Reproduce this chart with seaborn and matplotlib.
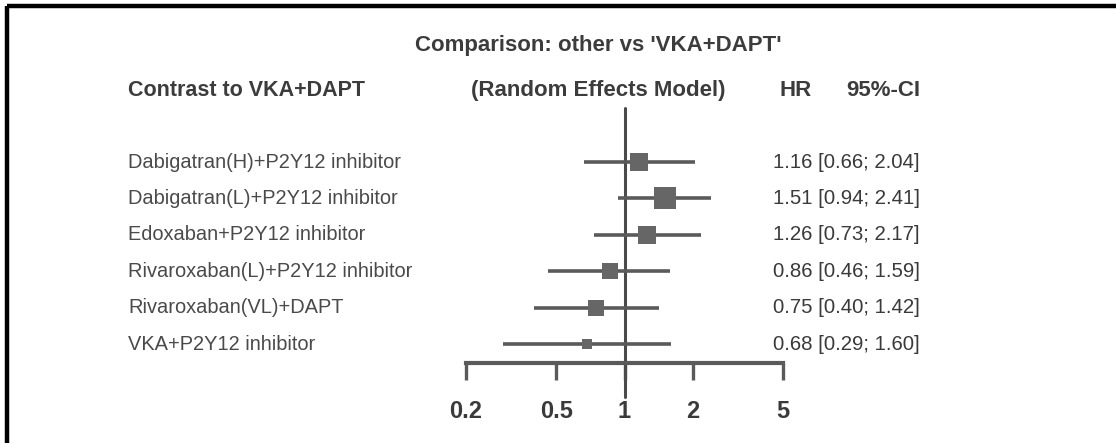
import numpy as np
import pandas as pd
import matplotlib
matplotlib.use("Agg")
import matplotlib.pyplot as plt
from matplotlib import font_manager
from matplotlib.transforms import blended_transform_factory
import seaborn as sns

# Network meta-analysis results, contrasts to VKA+DAPT
treatments = [
    "Dabigatran(H)+P2Y12 inhibitor",
    "Dabigatran(L)+P2Y12 inhibitor",
    "Edoxaban+P2Y12 inhibitor",
    "Rivaroxaban(L)+P2Y12 inhibitor",
    "Rivaroxaban(VL)+DAPT",
    "VKA+P2Y12 inhibitor",
]
hr = [1.16, 1.51, 1.26, 0.86, 0.75, 0.68]
ci_low = [0.66, 0.94, 0.73, 0.46, 0.40, 0.29]
ci_high = [2.04, 2.41, 2.17, 1.59, 1.42, 1.60]
weights = [3.3, 4.8, 3.2, 2.6, 2.6, 1.0]
ci_text = [
    "1.16 [0.66; 2.04]",
    "1.51 [0.94; 2.41]",
    "1.26 [0.73; 2.17]",
    "0.86 [0.46; 1.59]",
    "0.75 [0.40; 1.42]",
    "0.68 [0.29; 1.60]",
]
x_ticks = [0.2, 0.5, 1, 2, 5]
x_tick_labels = ["0.2", "0.5", "1", "2", "5"]

df = pd.DataFrame({"treatment": treatments, "hr": hr, "lo": ci_low,
                   "hi": ci_high, "w": weights, "row": np.arange(len(treatments))})

sns.set_theme(style="white")
available = {f.name for f in font_manager.fontManager.ttflist}
family = next((f for f in ["Liberation Sans Narrow", "Arial Narrow", "Liberation Sans"]
               if f in available), "DejaVu Sans")
plt.rcParams["font.family"] = [family, "DejaVu Sans"]

W, H = 1116, 443
fig = plt.figure(figsize=(W / 100, H / 100), dpi=100)
fig.patch.set_facecolor("white")

# overlay in pixel coordinates for the frame and header texts
ov = fig.add_axes([0, 0, 1, 1])
ov.set_xlim(0, W)
ov.set_ylim(H, 0)
ov.axis("off")

# forest panel
x0, x1 = 466, 783
ytop, ybot = 108, 363
ax = fig.add_axes([x0 / W, 1 - ybot / H, (x1 - x0) / W, (ybot - ytop) / H])
ax.patch.set_alpha(0)
ax.set_xscale("log")
ax.set_xlim(0.2, 5)
row0, dy = 162, 36.4
ax.set_ylim((ybot - row0) / dy, (ytop - row0) / dy)

line_col = "#5a5a5a"
ax.hlines(df["row"], df["lo"], df["hi"], color=line_col, lw=2.6, zorder=2)
sns.scatterplot(data=df, x="hr", y="row", size="w", sizes=(52, 250),
                marker="s", color="#666666", edgecolor="none", legend=False,
                ax=ax, zorder=3)
# line of no effect
ax.plot([1, 1], [(ytop - row0) / dy, (397 - row0) / dy], color="#4a4a4a",
        lw=2.2, clip_on=False, zorder=1)

for s in ["top", "right", "left"]:
    ax.spines[s].set_visible(False)
ax.spines["bottom"].set_color(line_col)
ax.spines["bottom"].set_linewidth(3)
ax.set_xticks(x_ticks)
ax.set_xticklabels(x_tick_labels)
ax.minorticks_off()
ax.tick_params(axis="x", direction="out", length=12, width=2.4, color=line_col,
               pad=15, labelsize=17, labelcolor="#3a3a3a", bottom=True)
for t in ax.get_xticklabels():
    t.set_fontweight("bold")
ax.set_yticks([])
ax.set_xlabel("")
ax.set_ylabel("")

# frame lines on top and left
ov.plot([7, W], [6, 6], color="black", lw=3.2, solid_capstyle="butt")
ov.plot([7, 7], [6, H], color="black", lw=3.2, solid_capstyle="butt")

hdr = dict(fontsize=16, fontweight="bold", color="#3c3c3c", va="center")
ov.text(598, 45, "Comparison: other vs 'VKA+DAPT'", ha="center", **hdr)
ov.text(128, 90, "Contrast to VKA+DAPT", ha="left", fontstretch="condensed",
        **{**hdr, "fontsize": 15.5})
ov.text(598, 90, "(Random Effects Model)", ha="center", **hdr)
ov.text(796, 90, "HR", ha="center", **hdr)
ov.text(920, 90, "95%-CI", ha="right", **hdr)

tr = blended_transform_factory(ov.transData, ax.transData)
for i, (name, txt) in enumerate(zip(treatments, ci_text)):
    ov.text(128, i, name, transform=tr, ha="left", va="center",
            fontsize=14.4, color="#4a4a4a")
    ov.text(920, i, txt, transform=tr, ha="right", va="center",
            fontsize=14.7, color="#3a3a3a")

fig.savefig("out.png", dpi=100, facecolor="white")
